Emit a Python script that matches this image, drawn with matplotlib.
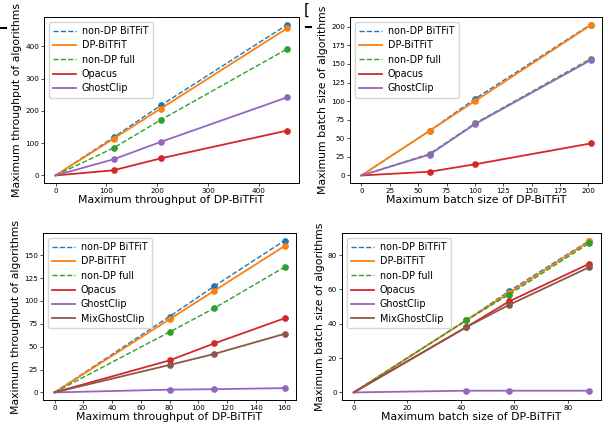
import matplotlib
matplotlib.use("Agg")
import matplotlib.pyplot as plt
from matplotlib.lines import Line2D

# ---------------- data ----------------
series_tl = ["non-DP BiTFiT", "DP-BiTFiT", "non-DP full", "Opacus", "GhostClip"]
series_b = ["non-DP BiTFiT", "DP-BiTFiT", "non-DP full", "Opacus", "GhostClip", "MixGhostClip"]

# top-left: throughput
tl_x = [0, 114, 207, 456]
tl_y = {
    "non-DP BiTFiT": [0, 118, 217, 467],
    "DP-BiTFiT": [0, 114, 207, 456],
    "non-DP full": [0, 85, 172, 392],
    "Opacus": [0, 16, 53, 139],
    "GhostClip": [0, 50, 104, 242],
}
# top-right: batch size
tr_x = [0, 60, 100, 202]
tr_y = {
    "non-DP BiTFiT": [0, 60, 103, 203],
    "DP-BiTFiT": [0, 60, 100, 202],
    "non-DP full": [0, 29, 70, 157],
    "Opacus": [0, 5, 15, 43],
    "GhostClip": [0, 28, 69, 155],
}
# bottom-left: throughput
bl_x = [0, 80, 111, 160]
bl_y = {
    "non-DP BiTFiT": [0, 83, 116, 166],
    "DP-BiTFiT": [0, 80, 111, 160],
    "non-DP full": [0, 66, 92, 137],
    "Opacus": [0, 35, 53.5, 81],
    "GhostClip": [0, 3, 3.5, 4.7],
    "MixGhostClip": [0, 30, 42, 64],
}
# bottom-right: batch size
br_x = [0, 42, 58, 88]
br_y = {
    "non-DP BiTFiT": [0, 42, 59, 88.5],
    "DP-BiTFiT": [0, 42, 58, 88],
    "non-DP full": [0, 42, 57, 87],
    "Opacus": [0, 38, 53, 75],
    "GhostClip": [0, 1, 1, 1],
    "MixGhostClip": [0, 38, 51, 73],
}

tl_ticks = [0, 100, 200, 300, 400]
tr_ticks = [0, 25, 50, 75, 100, 125, 150, 175, 200]
bl_xticks = [0, 20, 40, 60, 80, 100, 120, 140, 160]
bl_yticks = [0, 25, 50, 75, 100, 125, 150]
br_ticks = [0, 20, 40, 60, 80]

labels_thr = ("Maximum throughput of DP-BiTFiT", "Maximum throughput of algorithms")
labels_bs = ("Maximum batch size of DP-BiTFiT", "Maximum batch size of algorithms")

# ---------------- style ----------------
colors = {
    "non-DP BiTFiT": "tab:blue",
    "DP-BiTFiT": "tab:orange",
    "non-DP full": "tab:green",
    "Opacus": "tab:red",
    "GhostClip": "tab:purple",
    "MixGhostClip": "tab:brown",
}
dashed = {"non-DP BiTFiT", "non-DP full"}

W, H = 603, 432
fig = plt.figure(figsize=(W / 100, H / 100), dpi=100)


def ax_px(l, t, r, b):
    return fig.add_axes([l / W, 1 - b / H, (r - l) / W, (b - t) / H])


def draw(ax, x, ys, names, xticks, yticks, labels):
    for n in names:
        y = ys[n]
        ls = "--" if n in dashed else "-"
        lw = 1.0 if n in dashed else 1.3
        ax.plot(x, y, ls, color=colors[n], lw=lw, label=n)
        ax.plot(x[1:], y[1:], "o", color=colors[n], ms=3.8, lw=0)
    ax.set_xticks(xticks)
    ax.set_yticks(yticks)
    ax.tick_params(labelsize=5.2, length=2, width=0.5, pad=1.5)
    for s in ax.spines.values():
        s.set_linewidth(0.7)
    ax.set_xlabel(labels[0], fontsize=7.8, labelpad=1)
    ax.set_ylabel(labels[1], fontsize=7.8, labelpad=2)
    ax.legend(loc="upper left", fontsize=6.9, handlelength=2.4, handletextpad=0.6,
              labelspacing=0.45, borderpad=0.45, framealpha=0.8, fancybox=True)


ax1 = ax_px(44, 17, 299, 183)
draw(ax1, tl_x, tl_y, series_tl, tl_ticks, tl_ticks, labels_thr)
ax2 = ax_px(350, 17, 602, 183)
draw(ax2, tr_x, tr_y, series_tl, tr_ticks, tr_ticks, labels_bs)
ax3 = ax_px(43, 233, 296, 400)
draw(ax3, bl_x, bl_y, series_b, bl_xticks, bl_yticks, labels_thr)
ax4 = ax_px(342, 233, 601, 400)
draw(ax4, br_x, br_y, series_b, br_ticks, br_ticks, labels_bs)

# cropping artifacts at top edge
fig.add_artist(Line2D([0 / W, 6 / W], [1 - 27.5 / H, 1 - 27.5 / H], color="black", lw=1.5))
fig.add_artist(Line2D([306 / W, 311 / W], [1 - 27 / H, 1 - 27 / H], color="black", lw=1.5))
fig.text(304 / W, 1 - 10 / H, "[", fontsize=11, va="center", ha="left", color="black")

fig.savefig("out.png", dpi=100)
